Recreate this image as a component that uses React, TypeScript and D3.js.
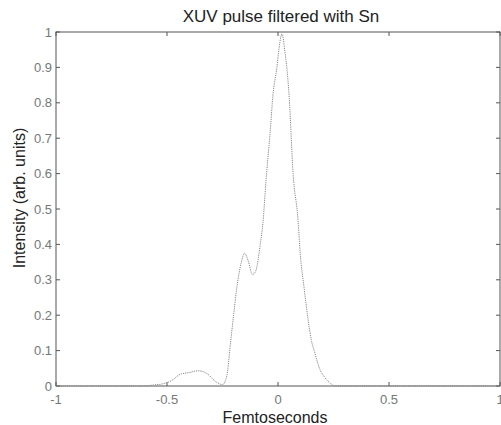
import React from 'react'
import * as d3 from 'd3'

// pulse profile
const times = [-1, -0.8, -0.6, -0.56, -0.52, -0.48, -0.44, -0.4, -0.36, -0.32, -0.28, -0.25, -0.23, -0.216, -0.2, -0.185, -0.165, -0.15, -0.135, -0.115, -0.1, -0.08, -0.068, -0.054, -0.035, -0.023, -0.005, 0.008, 0.018, 0.03, 0.05, 0.068, 0.09, 0.1, 0.117, 0.135, 0.15, 0.166, 0.19, 0.21, 0.235, 0.26, 0.4, 0.7, 1]
const intensity = [0, 0, 0, 0.003, 0.006, 0.015, 0.033, 0.038, 0.043, 0.035, 0.012, 0.004, 0.03, 0.11, 0.2, 0.28, 0.35, 0.375, 0.355, 0.315, 0.325, 0.4, 0.46, 0.58, 0.72, 0.82, 0.9, 0.97, 0.995, 0.95, 0.82, 0.6, 0.47, 0.375, 0.28, 0.19, 0.13, 0.093, 0.045, 0.025, 0.008, 0, 0, 0, 0]

const xTicks = [-1, -0.5, 0, 0.5, 1]
const yTicks = [0, 0.1, 0.2, 0.3, 0.4, 0.5, 0.6, 0.7, 0.8, 0.9, 1]

const W = 501
const H = 425
const left = 56, right = 500, top = 32, bottom = 386

export default function App() {
  const x = d3.scaleLinear().domain([-1, 1]).range([left, right])
  const y = d3.scaleLinear().domain([0, 1]).range([bottom, top])

  const pts = times.map((t, i) => [t, intensity[i]] as [number, number])
  const line = d3.line<[number, number]>()
    .x(d => x(d[0]))
    .y(d => y(d[1]))
    .curve(d3.curveMonotoneX)

  const fmt = (v: number) => (v === 0 ? '0' : String(v))
  const tickLen = 4

  return (
    <svg width={W} height={H} style={{ position: 'absolute', left: 0, top: 0, background: '#fff' }}
      fontFamily="Liberation Sans, Arial, sans-serif">
      <rect x={0} y={0} width={W} height={H} fill="#fff" />
      <text x={281} y={22} textAnchor="middle" fontSize={17} fill="#222">XUV pulse filtered with Sn</text>

      {/* box */}
      <rect x={left} y={top} width={right - left} height={bottom - top} fill="none" stroke="#555" strokeWidth={1} />

      {/* y ticks, both sides */}
      {yTicks.map(t => (
        <g key={'y' + t}>
          <line x1={left} x2={left + tickLen} y1={y(t)} y2={y(t)} stroke="#555" />
          <line x1={right - tickLen} x2={right} y1={y(t)} y2={y(t)} stroke="#555" />
          <text x={left - 4} y={y(t)} dy="0.35em" textAnchor="end" fontSize={13} fill="#777">{fmt(t)}</text>
        </g>
      ))}

      {/* x ticks, top and bottom */}
      {xTicks.map(t => (
        <g key={'x' + t}>
          <line x1={x(t)} x2={x(t)} y1={bottom} y2={bottom - tickLen} stroke="#555" />
          <line x1={x(t)} x2={x(t)} y1={top} y2={top + tickLen} stroke="#555" />
          <text x={x(t)} y={404} textAnchor="middle" fontSize={13} fill="#777">{fmt(t)}</text>
        </g>
      ))}

      <path d={line(pts) || ''} fill="none" stroke="#888" strokeWidth={1} strokeDasharray="1.2,1" />

      <text x={275} y={423} textAnchor="middle" fontSize={16} fill="#222">Femtoseconds</text>
      <text transform={`translate(25,${198}) rotate(-90)`} textAnchor="middle" fontSize={16} fill="#222">Intensity (arb. units)</text>
    </svg>
  )
}
